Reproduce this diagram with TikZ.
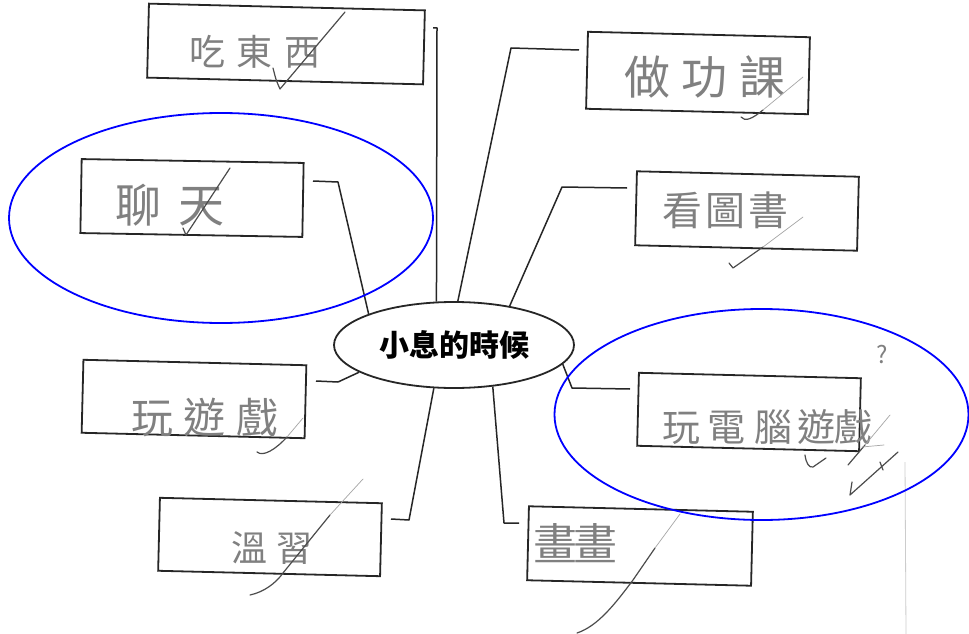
\documentclass[tikz,border=0pt]{standalone}
\usepackage{fontspec}
\newfontfamily\cjk{Noto Sans CJK TC}
\usetikzlibrary{shapes.geometric}
\tikzset{
  itembox/.style={draw=black!85,line width=1.8pt,inner sep=0pt,minimum width=222pt,minimum height=74pt,rotate=-1.4},
  hand/.style={text=black!50,inner sep=0pt,anchor=center},
  link/.style={draw=black!85,line width=1.5pt,line join=round},
  tick/.style={draw=black!70,line width=1.2pt,line cap=round,line join=round},
  faint/.style={draw=black!35,line width=0.7pt,line cap=round},
  ring/.style={draw=blue,line width=1.8pt},
  hubnode/.style={draw=black!85,line width=1.8pt,ellipse,inner sep=0pt,minimum width=240pt,minimum height=86pt,font=\cjk\bfseries\fontsize{30}{30}\selectfont}
}
\newcommand{\hw}[2]{\cjk\fontsize{#1}{#1}\selectfont #2}
\begin{document}
\begin{tikzpicture}[x=1pt,y=-1pt]
\useasboundingbox[fill=white] (0,0) rectangle (969,634);

% scan edge line
\draw[draw=black!20,line width=0.8pt] (905,462) -- (906,634);

% central node
\node[hubnode] (hub) at (454,345) {小息的時候};

% boxes
\node[itembox,minimum width=276pt,minimum height=74pt] (b1) at (286,44) {};
\node[itembox,rotate=0.4] (b2) at (192,198) {};
\node[itembox,minimum height=77pt] (b3) at (698,73) {};
\node[itembox] (b4) at (747,211) {};
\node[itembox,minimum width=223pt,minimum height=73pt] (b5) at (194,399) {};
\node[itembox,minimum height=73pt] (b6) at (749,412) {};
\node[itembox,minimum height=73pt] (b7) at (270,537) {};
\node[itembox,minimum width=224pt] (b8) at (640,546) {};

% handwritten labels
\node[hand] (t1) at (255,52) {\hw{36}{吃\hspace{12pt}東\hspace{12pt}西}};
\node[hand] (t2) at (170,205) {\hw{46}{聊\hspace{18pt}天}};
\node[hand] (t3) at (705,77) {\hw{46}{做\hspace{12pt}功\hspace{12pt}課}};
\node[hand] (t4) at (725,210) {\hw{40}{看\hspace{3pt}圖\hspace{3pt}書}};
\node[hand] (t5) at (205,417) {\hw{42}{玩\hspace{11pt}遊\hspace{11pt}戲}};
\node[hand] (t6) at (767,427) {\hw{38}{玩\hspace{8pt}電\hspace{8pt}腦\hspace{6pt}遊\hspace{-2pt}戲}};
\node[hand] (t7) at (272,548) {\hw{36}{溫\hspace{9pt}習}};
\node[hand] (t8) at (575,543) {\hw{44}{畫\hspace{-4pt}畫}};
\node[hand] (q) at (882,355) {\hw{24}{?}};

% connector stubs
\coordinate (s1) at (433,28);
\coordinate (k1) at (437,28);
\coordinate (s2) at (313,181);
\coordinate (k2) at (338,182);
\coordinate (s3) at (579,50);
\coordinate (k3) at (511,48);
\coordinate (s4) at (627,188);
\coordinate (k4) at (562,187);
\coordinate (s5) at (316,381);
\coordinate (k5) at (338,382);
\coordinate (s6) at (630,389);
\coordinate (k6) at (572,388);
\coordinate (s7) at (391,519);
\coordinate (k7) at (409,520);
\coordinate (s8) at (519,523);
\coordinate (k8) at (504,523);

\draw[link] (s1) -- (k1) -- (hub.112);
\draw[link] (s2) -- (k2) -- (hub.160);
\draw[link] (s3) -- (k3) -- (hub.85);
\draw[link] (s4) -- (k4) -- (hub.35);
\draw[link] (s5) -- (k5) -- (hub.196);
\draw[link] (s6) -- (k6) -- (hub.-10);
\draw[link] (s7) -- (k7) -- (hub.245);
\draw[link] (s8) -- (k8) -- (hub.-47);

% check marks
\draw[tick] (273,68) .. controls (276,80) .. (280,89) -- (345,12);
\draw[tick] (183,228) -- (186,235) -- (230,168);
\draw[tick] (741,117) .. controls (745,122) and (752,119) .. (763,110);
\draw[faint] (763,110) -- (803,77);
\draw[tick] (729,263) -- (733,268) -- (763,247);
\draw[faint] (763,247) -- (803,217);
\draw[tick] (257,452) .. controls (263,457) and (275,450) .. (287,437);
\draw[faint] (287,437) -- (303,418);
\draw[tick] (250,595) .. controls (264,592) and (276,583) .. (283,573) -- (330,515);
\draw[faint] (330,515) -- (363,479);
\draw[tick] (577,633) .. controls (598,626) and (615,604) .. (633,580) -- (655,548);
\draw[faint] (655,548) -- (680,514);
\draw[tick] (805,455) .. controls (806,463) and (809,468) .. (813,467) -- (826,458);
\draw[tick] (848,465) -- (865,445);
\draw[faint] (865,445) -- (890,415);
\draw[faint] (862,447) -- (884,445);
\draw[tick] (852,482) -- (850,495) -- (898,452);
\draw[tick] (880,462) -- (883,470);

% blue rings
\draw[ring] (221,218) ellipse [x radius=212pt, y radius=105pt];
\draw[ring] (761.5,414.5) ellipse [x radius=207pt, y radius=105.5pt];
\end{tikzpicture}
\end{document}
